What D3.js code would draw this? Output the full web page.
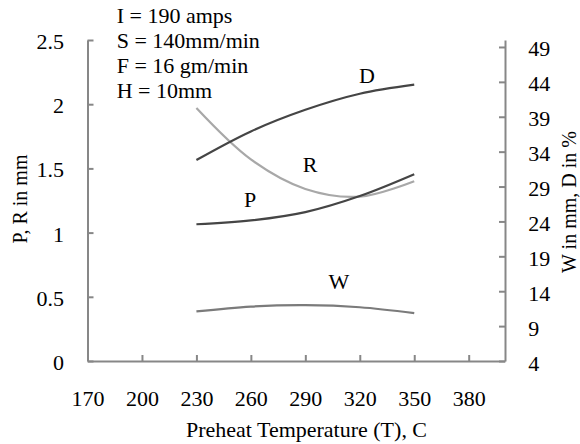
<!DOCTYPE html>
<html><head><meta charset="utf-8">
<script src="https://cdn.jsdelivr.net/npm/d3@7"></script>
<style>
html,body{margin:0;padding:0;background:#fff;}
svg{display:block;}
text{font-family:"Liberation Serif","Times New Roman",serif;fill:#000;}
</style></head>
<body>
<svg id="chart" width="580" height="444"></svg>
<script>
// ---- data ----
const temps = [230, 260, 290, 320, 350];
const P = [1.065, 1.095, 1.16, 1.285, 1.455];
const R = [1.97, 1.57, 1.34, 1.28, 1.40];
const D = [32.8, 36.9, 40.0, 42.3, 43.6];
const W = [11.1, 11.8, 12.0, 11.7, 10.85];
const xTicks = [170, 200, 230, 260, 290, 320, 350, 380];
const yLeftTicks = [0, 0.5, 1, 1.5, 2, 2.5];
const yRightTicks = [4, 9, 14, 19, 24, 29, 34, 39, 44, 49];
const noteLines = ["I = 190 amps", "S = 140mm/min", "F = 16 gm/min", "H = 10mm"];

const SX = 1.1; // horizontal text stretch
const svg = d3.select("#chart");
const L = 87.5, Rt = 505, T = 40, B = 361;
const x = d3.scaleLinear().domain([170, 400]).range([L, Rt]);
const yL = d3.scaleLinear().domain([0, 2.5]).range([B, T]);
const yR = d3.scaleLinear().domain([4, 50]).range([B, T]);
const axisColor = "#878787";

function styleAxis(g) {
  g.selectAll("path.domain").attr("stroke", axisColor).attr("stroke-width", 2);
  g.selectAll(".tick line").attr("stroke", axisColor).attr("stroke-width", 2);
  g.selectAll("text").style("font-size", "20px").attr("fill", "#000");
}

// bottom axis
const gx = svg.append("g").attr("transform", `translate(0,${B})`)
  .call(d3.axisBottom(x).tickValues(xTicks).tickSizeInner(-6).tickSizeOuter(0).tickFormat(d3.format("d")));
styleAxis(gx);
gx.selectAll(".tick text").attr("y", 45.5).attr("dy", null).attr("transform", `scale(${SX},1)`);

// left axis
const gl = svg.append("g").attr("transform", `translate(${L},0)`)
  .call(d3.axisLeft(yL).tickValues(yLeftTicks).tickSizeInner(-6).tickSizeOuter(0).tickFormat(d => d3.format("")(d)));
styleAxis(gl);
gl.selectAll(".tick text").attr("x", -23.5 / SX).attr("dy", "0.42em").attr("transform", `scale(${SX},1)`);

// right axis
const gr = svg.append("g").attr("transform", `translate(${Rt},0)`)
  .call(d3.axisRight(yR).tickValues(yRightTicks).tickSizeInner(-6).tickSizeOuter(0));
styleAxis(gr);
gr.selectAll(".tick text").attr("x", 23.3 / SX).attr("dy", "0.45em").attr("transform", `scale(${SX},1)`);

// lines
const series = [
  {vals: R, y: yL, color: "#a8a8a8"},
  {vals: W, y: yR, color: "#7b7b7b"},
  {vals: P, y: yL, color: "#454545"},
  {vals: D, y: yR, color: "#454545"}
];
series.forEach(s => {
  const line = d3.line().x((d, i) => x(temps[i])).y(d => s.y(d)).curve(d3.curveCatmullRom.alpha(0.5));
  svg.append("path").attr("d", line(s.vals)).attr("fill", "none")
    .attr("stroke", s.color).attr("stroke-width", 2.2);
});

// series labels
const labels = [
  {t: "D", x: 367, y: 82.5},
  {t: "R", x: 310, y: 171.5},
  {t: "P", x: 250, y: 206.5},
  {t: "W", x: 339, y: 289}
];
labels.forEach(l => {
  svg.append("text").attr("transform", `translate(${l.x},${l.y}) scale(${SX},1)`)
    .attr("text-anchor", "middle").style("font-size", "20px").text(l.t);
});

// note block
noteLines.forEach((t, i) => {
  svg.append("text").attr("transform", `translate(116.7,${22.6 + i * 25.2}) scale(${SX},1)`)
    .style("font-size", "20px").text(t);
});

// axis titles
svg.append("text").attr("transform", `translate(306.5,436.5) scale(${SX},1)`)
  .attr("text-anchor", "middle").style("font-size", "20px").text("Preheat Temperature (T), C");
svg.append("text").attr("transform", `translate(27,199) rotate(-90)`)
  .attr("text-anchor", "middle").style("font-size", "20px").text("P, R in mm");
svg.append("text").attr("transform", `translate(576,202) rotate(-90)`)
  .attr("text-anchor", "middle").style("font-size", "20px").text("W in mm, D in %");
</script>
</body></html>
